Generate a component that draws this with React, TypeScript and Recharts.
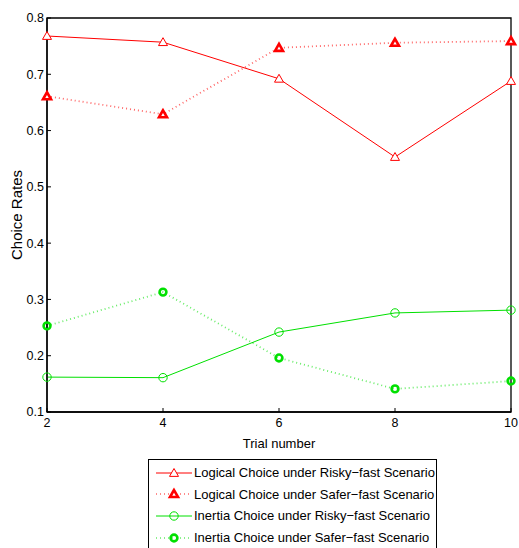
import { LineChart, Line, XAxis, YAxis, Legend, ReferenceArea } from 'recharts';

const trials = [2, 4, 6, 8, 10];
const logicalRisky = [0.768, 0.757, 0.692, 0.553, 0.688];
const logicalSafer = [0.661, 0.629, 0.747, 0.756, 0.759];
const inertiaRisky = [0.162, 0.161, 0.242, 0.276, 0.281];
const inertiaSafer = [0.253, 0.313, 0.196, 0.141, 0.155];
const yTicks = [0.1, 0.2, 0.3, 0.4, 0.5, 0.6, 0.7, 0.8];
const seriesNames = [
  'Logical Choice under Risky\u2212fast Scenario',
  'Logical Choice under Safer\u2212fast Scenario',
  'Inertia Choice under Risky\u2212fast Scenario',
  'Inertia Choice under Safer\u2212fast Scenario',
];

const RED = '#ff0000';
const GREEN = '#00e000';
const FONT = '"Liberation Sans", Arial, sans-serif';

const data = trials.map((t, i) => ({
  trial: t,
  lr: logicalRisky[i],
  ls: logicalSafer[i],
  ir: inertiaRisky[i],
  is: inertiaSafer[i],
}));

type Shape = 'tri' | 'circ';

function Marker({ cx, cy, shape, bold, color }: { cx: number; cy: number; shape: Shape; bold: boolean; color: string }) {
  if (shape === 'tri') {
    const s = bold ? 4 : 4.5;
    const pts = `${cx},${cy - s} ${cx - s},${cy + s * 0.75} ${cx + s},${cy + s * 0.75}`;
    return <polygon points={pts} fill="#fff" stroke={color} strokeWidth={bold ? 2.6 : 1} />;
  }
  return <circle cx={cx} cy={cy} r={bold ? 3.4 : 4.2} fill="none" stroke={color} strokeWidth={bold ? 2.6 : 1} />;
}

const makeDot = (shape: Shape, bold: boolean, color: string) => (props: any) => (
  <Marker key={`d-${props.index}`} cx={props.cx} cy={props.cy} shape={shape} bold={bold} color={color} />
);

const legendItems: { shape: Shape; bold: boolean; color: string; dotted: boolean }[] = [
  { shape: 'tri', bold: false, color: RED, dotted: false },
  { shape: 'tri', bold: true, color: RED, dotted: true },
  { shape: 'circ', bold: false, color: GREEN, dotted: false },
  { shape: 'circ', bold: true, color: GREEN, dotted: true },
];

function LegendBox() {
  return (
    <div style={{ border: '1px solid #000', width: 289, height: 100, background: '#fff', fontFamily: FONT, fontSize: 13, boxSizing: 'border-box', paddingTop: 2 }}>
      {legendItems.map((it, i) => (
        <div key={i} style={{ display: 'flex', alignItems: 'center', height: 21.6, whiteSpace: 'nowrap' }}>
          <svg width={42} height={14} style={{ marginLeft: 3, flexShrink: 0 }}>
            <line x1={4} x2={40} y1={7} y2={7} stroke={it.color} strokeWidth={it.dotted ? 1.6 : 1}
              strokeDasharray={it.dotted ? '1 3' : undefined} opacity={it.dotted ? 0.6 : 1} />
            <Marker cx={22} cy={7} shape={it.shape} bold={it.bold} color={it.color} />
          </svg>
          <span style={{ color: '#000' }}>{seriesNames[i]}</span>
        </div>
      ))}
    </div>
  );
}

export default function App() {
  const tickStyle = { fontSize: 12.5, fill: '#000', fontFamily: FONT };
  const axisLine = { stroke: '#000', strokeWidth: 1.3 };
  return (
    <div style={{ position: 'absolute', left: 0, top: 0, width: 519, height: 548, background: '#fff', overflow: 'hidden' }}>
      <LineChart width={519} height={548} data={data} margin={{ top: 18, right: 8, left: 0, bottom: 116 }}>
        <XAxis dataKey="trial" type="number" domain={[2, 10]} ticks={trials} height={20}
          axisLine={axisLine} tickLine={{ stroke: '#000' }} tickSize={-4} tickMargin={10} tick={tickStyle}
          label={{ value: 'Trial number', position: 'insideBottom', offset: -16, style: { fontSize: 13, fill: '#000', fontFamily: FONT } }} />
        <XAxis xAxisId="top" orientation="top" dataKey="trial" type="number" domain={[2, 10]} ticks={trials} height={0}
          axisLine={axisLine} tickLine={{ stroke: '#000' }} tickSize={-4} tick={false} />
        <YAxis type="number" domain={[0.1, 0.8]} ticks={yTicks} width={47} interval={0}
          axisLine={axisLine} tickLine={{ stroke: '#000' }} tickSize={-4} tickMargin={7} tick={tickStyle}
          tickFormatter={(v: number) => v.toFixed(1)}
          label={{ value: 'Choice Rates', angle: -90, position: 'insideLeft', offset: 17, style: { fontSize: 15, fill: '#000', fontFamily: FONT, textAnchor: 'middle' } }} />
        <YAxis yAxisId="right" orientation="right" type="number" domain={[0.1, 0.8]} ticks={yTicks} width={0}
          axisLine={axisLine} tickLine={{ stroke: '#000' }} tickSize={-4} tick={false} />
        <ReferenceArea x1={2} x2={10} y1={0.1} y2={0.8} fill="none" stroke="#000" strokeWidth={1.3} />
        <Line dataKey="lr" stroke={RED} strokeWidth={1} isAnimationActive={false} dot={makeDot('tri', false, RED)} activeDot={false} />
        <Line dataKey="ls" stroke={RED} strokeWidth={1.8} strokeOpacity={0.6} strokeDasharray="1 3" isAnimationActive={false} dot={makeDot('tri', true, RED)} activeDot={false} />
        <Line dataKey="ir" stroke={GREEN} strokeWidth={1} isAnimationActive={false} dot={makeDot('circ', false, GREEN)} activeDot={false} />
        <Line dataKey="is" stroke={GREEN} strokeWidth={1.8} strokeOpacity={0.6} strokeDasharray="1 3" isAnimationActive={false} dot={makeDot('circ', true, GREEN)} activeDot={false} />
        <Legend layout="vertical" align="center" verticalAlign="middle" content={() => <LegendBox />}
          wrapperStyle={{ left: 148, top: 459, width: 289 }} />
      </LineChart>
    </div>
  );
}
